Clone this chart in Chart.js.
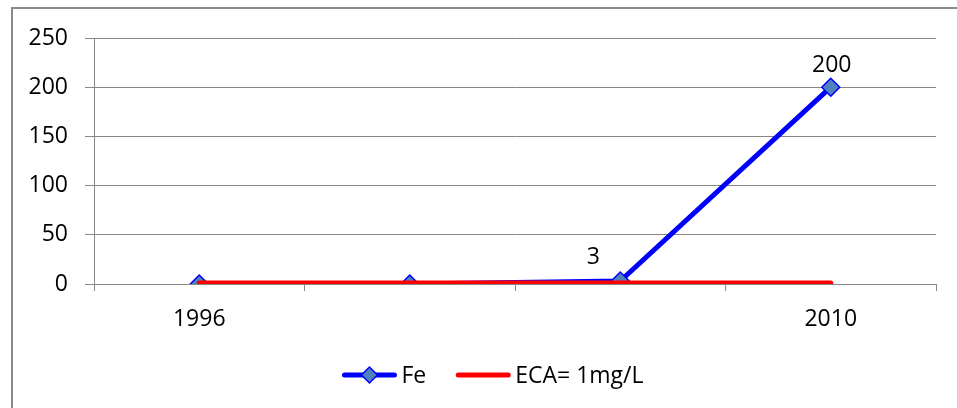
<!DOCTYPE html>
<html>
<head>
<meta charset="utf-8">
<script src="https://cdn.jsdelivr.net/npm/chart.js@4/dist/chart.umd.min.js"></script>
<style>
  html, body { margin: 0; padding: 0; background: #fff; }
  #wrap { width: 957px; height: 408px; position: relative; }
</style>
</head>
<body>
<div id="wrap"><canvas id="c" width="957" height="408"></canvas></div>
<script>
const categories = ['1996', '', '', '2010'];
const feValues = [0, 0, 3, 200];
const ecaValues = [1, 1, 1, 1];
const feLabels = [null, null, '3', '200'];
const seriesNames = ['Fe', 'ECA= 1mg/L'];
const yMin = 0, yMax = 250, yStep = 50;

const FONT = '"Open Sans", "Liberation Sans", sans-serif';
const FSIZE = 23;
const GRID = '#878787';
const BLUE = '#0000FF';
const MARKER = '#4F81BD';
const RED = '#FF0000';

const frame = {
  id: 'frame',
  beforeDraw(chart) {
    const ctx = chart.ctx;
    ctx.save();
    ctx.fillStyle = '#fff';
    ctx.fillRect(0, 0, chart.width, chart.height);
    ctx.strokeStyle = '#8a8a8a';
    ctx.lineWidth = 2;
    ctx.strokeRect(12, 8, chart.width + 50, chart.height + 50);
    ctx.restore();
  }
};

const labels = {
  id: 'pointLabels',
  afterDatasetsDraw(chart, args, opts) {
    const ctx = chart.ctx;
    const meta = chart.getDatasetMeta(0);
    ctx.save();
    ctx.font = FSIZE + 'px ' + FONT;
    ctx.fillStyle = '#000';
    ctx.textAlign = 'center';
    ctx.textBaseline = 'middle';
    meta.data.forEach((pt, i) => {
      const t = feLabels[i];
      if (t == null) return;
      const off = opts.offsets[i] || [0, -23];
      ctx.fillText(t, pt.x + off[0], pt.y + off[1]);
    });
    ctx.restore();
  }
};

const legend = {
  id: 'customLegend',
  afterDraw(chart, args, opts) {
    const ctx = chart.ctx;
    ctx.save();
    ctx.font = FSIZE + 'px ' + FONT;
    const lineLen = 54, gapText = 5, gapItem = 30;
    const widths = seriesNames.map(n => ctx.measureText(n).width);
    const total = widths.reduce((a, w) => a + lineLen + gapText + w, 0) + gapItem;
    let x = opts.centerX - total / 2;
    const y = opts.y;
    const styles = [
      { color: BLUE, marker: true },
      { color: RED, marker: false }
    ];
    seriesNames.forEach((name, i) => {
      ctx.strokeStyle = styles[i].color;
      ctx.lineWidth = 5;
      ctx.lineCap = 'round';
      ctx.beginPath();
      ctx.moveTo(x + 2, y);
      ctx.lineTo(x + lineLen - 2, y);
      ctx.stroke();
      if (styles[i].marker) {
        const cx = x + lineLen / 2, r = 8;
        ctx.beginPath();
        ctx.moveTo(cx, y - r);
        ctx.lineTo(cx + r, y);
        ctx.lineTo(cx, y + r);
        ctx.lineTo(cx - r, y);
        ctx.closePath();
        ctx.fillStyle = MARKER;
        ctx.fill();
        ctx.lineWidth = 1.5;
        ctx.strokeStyle = BLUE;
        ctx.stroke();
      }
      ctx.fillStyle = '#000';
      ctx.textAlign = 'left';
      ctx.textBaseline = 'middle';
      ctx.fillText(name, x + lineLen + gapText, y + 1);
      x += lineLen + gapText + widths[i] + gapItem;
    });
    ctx.restore();
  }
};

new Chart(document.getElementById('c'), {
  type: 'line',
  data: {
    labels: categories,
    datasets: [
      {
        label: seriesNames[0],
        data: feValues,
        borderColor: BLUE,
        borderWidth: 5,
        backgroundColor: MARKER,
        pointStyle: 'rectRot',
        pointRadius: 9,
        pointBackgroundColor: MARKER,
        pointBorderColor: BLUE,
        pointBorderWidth: 1.5,
        tension: 0,
        order: 2
      },
      {
        label: seriesNames[1],
        data: ecaValues,
        borderColor: RED,
        borderWidth: 5,
        borderCapStyle: 'round',
        pointRadius: 0,
        tension: 0,
        order: 1
      }
    ]
  },
  options: {
    responsive: false,
    animation: false,
    devicePixelRatio: 1,
    layout: { padding: { left: 0, right: 21, top: 38, bottom: 0 } },
    plugins: {
      legend: { display: false },
      tooltip: { enabled: false },
      pointLabels: { offsets: [null, null, [-27, -24], [1, -22]] },
      customLegend: { centerX: 493, y: 375 }
    },
    scales: {
      x: {
        offset: true,
        grid: {
          offset: true,
          drawOnChartArea: false,
          drawTicks: true,
          tickLength: 7,
          color: GRID,
          lineWidth: 1
        },
        border: { display: true, color: GRID, width: 1 },
        ticks: {
          color: '#000',
          font: { family: FONT, size: FSIZE },
          padding: 15,
          maxRotation: 0,
          autoSkip: false
        },
        afterFit(scale) { scale.height = 124; }
      },
      y: {
        min: yMin,
        max: yMax,
        ticks: {
          stepSize: yStep,
          color: '#000',
          font: { family: FONT, size: FSIZE },
          padding: 17
        },
        grid: {
          color: GRID,
          lineWidth: 1,
          tickLength: 9
        },
        border: { display: true, color: GRID, width: 1 },
        afterFit(scale) { scale.width = 94; }
      }
    }
  },
  plugins: [frame, labels, legend]
});
</script>
</body>
</html>
